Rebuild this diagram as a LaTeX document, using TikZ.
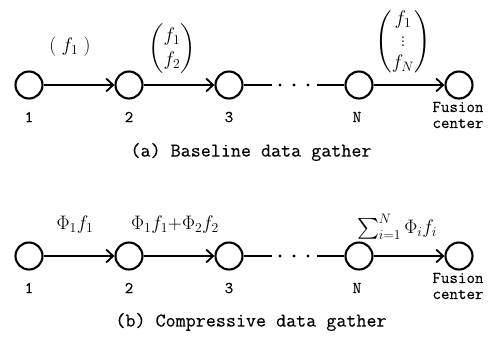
\RequirePackage{fix-cm}
\documentclass[tikz,border=0pt]{standalone}
\usepackage{amsmath}
\usepackage{fontspec}
\setmonofont[FakeBold=0.2]{Latin Modern Mono}
\usetikzlibrary{arrows.meta}
\begin{document}
\begin{tikzpicture}[x=1pt,y=-1pt,
  sensor/.style={circle,draw,line width=2.1pt,minimum size=27pt,inner sep=0pt},
  link/.style={line width=1.8pt},
  hop/.style={link,-{Straight Barb[length=7pt,width=13pt,line width=1.8pt]}},
  idx/.style={font=\ttfamily\fontsize{16.5}{18}\selectfont,inner sep=0pt},
  captext/.style={font=\ttfamily\fontsize{19.5}{22}\selectfont,inner sep=0pt},
  lab/.style={font=\fontsize{19.5}{22}\selectfont,inner sep=0pt},
  dotm/.style={circle,fill,inner sep=0pt,minimum size=3.2pt}]
\useasboundingbox (0,0) rectangle (490,341);
% ---------- (a) ----------
\node[sensor] (a1) at (29,85) {};
\node[sensor] (a2) at (129,85) {};
\node[sensor] (a3) at (229,85) {};
\node[sensor] (aN) at (359,85) {};
\node[sensor] (aF) at (459,85) {};
\coordinate (ad0) at (272,85);
\coordinate (ad4) at (317,85);
\node[dotm] (ad1) at (280,85) {};
\node[dotm] (ad2) at (294,85) {};
\node[dotm] (ad3) at (308,85) {};
\draw[hop] (a1) -- (a2);
\draw[hop] (a2) -- (a3);
\draw[link] (a3) -- (ad0);
\draw[link] (ad4) -- (aN);
\draw[hop] (aN) -- (aF);
\node[idx] (la1) at (29,117) {1};
\node[idx] (la2) at (129,117) {2};
\node[idx] (la3) at (229,117) {3};
\node[idx] (laN) at (357,117) {N};
\node[idx,align=center,font=\ttfamily\fontsize{16.5}{16}\selectfont] (laF) at (458,115) {Fusion\\center};
\node[lab] (ma1) at (70,47) {$\left(\;f_1\;\right)$};
\node[lab] (ma2) at (172,49) {\renewcommand{\arraystretch}{1.1}$\begin{pmatrix}f_1\\ f_2\end{pmatrix}$};
\node[lab] (maN) at (403,42) {$\begin{pmatrix}f_1\\ \vdots\\ f_N\end{pmatrix}$};
\node[captext] (capa) at (251,152) {(a) Baseline data gather};
% ---------- (b) ----------
\node[sensor] (b1) at (29,256) {};
\node[sensor] (b2) at (129,256) {};
\node[sensor] (b3) at (229,256) {};
\node[sensor] (bN) at (359,256) {};
\node[sensor] (bF) at (459,256) {};
\coordinate (bd0) at (272,256);
\coordinate (bd4) at (317,256);
\node[dotm] (bd1) at (280,256) {};
\node[dotm] (bd2) at (294,256) {};
\node[dotm] (bd3) at (308,256) {};
\draw[hop] (b1) -- (b2);
\draw[hop] (b2) -- (b3);
\draw[link] (b3) -- (bd0);
\draw[link] (bd4) -- (bN);
\draw[hop] (bN) -- (bF);
\node[idx] (lb1) at (29,288) {1};
\node[idx] (lb2) at (129,288) {2};
\node[idx] (lb3) at (229,288) {3};
\node[idx] (lbN) at (357,288) {N};
\node[idx,align=center,font=\ttfamily\fontsize{16.5}{16}\selectfont] (lbF) at (458,286) {Fusion\\center};
\node[lab] (mb1) at (75,225) {$\Phi_1 f_1$};
\node[lab] (mb2) at (175,225) {$\Phi_1 f_1{+}\Phi_2 f_2$};
\node[lab] (mbN) at (397,227) {$\sum_{i=1}^N \Phi_i f_i$};
\node[captext] (capb) at (251,322) {(b) Compressive data gather};
\end{tikzpicture}
\end{document}
